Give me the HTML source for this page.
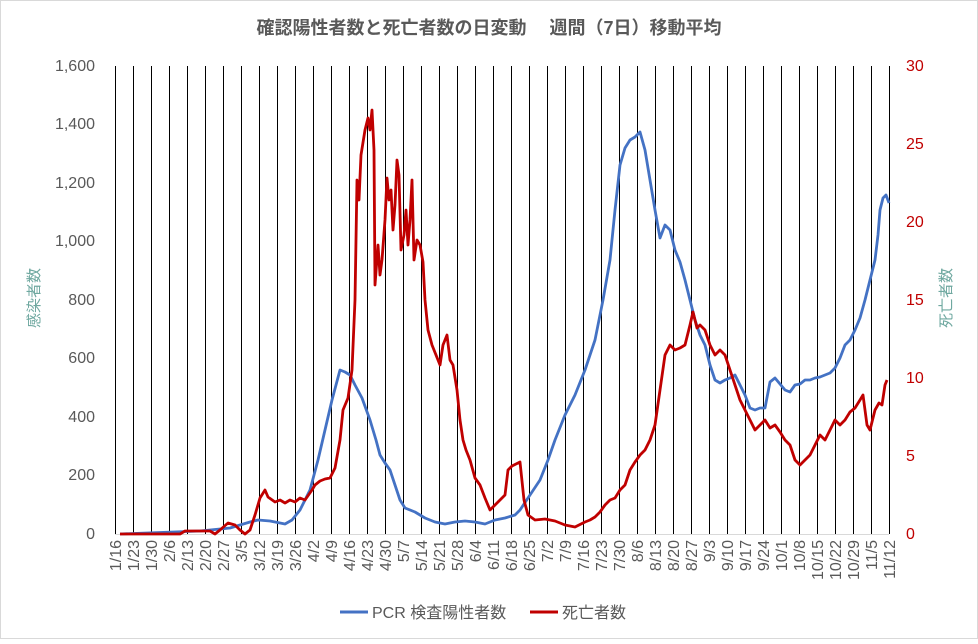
<!DOCTYPE html><html><head><meta charset="utf-8"><style>body{margin:0;background:#fff}</style></head><body>
<svg width="978" height="639" xmlns="http://www.w3.org/2000/svg" font-family="Liberation Sans, Noto Sans CJK JP, sans-serif">
<rect x="0.5" y="0.5" width="977" height="638" fill="#fff" stroke="#d9d9d9"/>
<text x="489" y="34" text-anchor="middle" font-size="18" font-weight="bold" fill="#595959">確認陽性者数と死亡者数の日変動　 週間（7日）移動平均</text>
<g stroke="#000" stroke-width="1" shape-rendering="crispEdges" id="g"></g>
<line x1="115" y1="534.5" x2="889" y2="534.5" stroke="#d9d9d9" shape-rendering="crispEdges"/>
<g font-size="16" fill="#595959" text-anchor="end">
<text x="95" y="539">0</text><text x="95" y="480">200</text><text x="95" y="422">400</text><text x="95" y="363">600</text><text x="95" y="305">800</text><text x="95" y="246">1,000</text><text x="95" y="188">1,200</text><text x="95" y="129">1,400</text><text x="95" y="71">1,600</text></g>
<g font-size="16" fill="#c00000" text-anchor="start">
<text x="906" y="539">0</text><text x="906" y="461">5</text><text x="906" y="383">10</text><text x="906" y="305">15</text><text x="906" y="227">20</text><text x="906" y="149">25</text><text x="906" y="71">30</text></g>
<text transform="translate(39,298) rotate(-90)" text-anchor="middle" font-size="15" fill="#6fa8a0">感染者数</text>
<text transform="translate(951,298) rotate(-90)" text-anchor="middle" font-size="15" fill="#6fa8a0">死亡者数</text>
<g id="xl" font-size="16" fill="#595959"></g>
<polyline fill="none" stroke="#4472c4" stroke-width="2.8" stroke-linejoin="round" points="120,534 200,531 230,528 250,522 258,520 270,521 285,524 292,520 300,510 310,490 318,460 325,430 332,400 340,370 345,372 350,375 355,385 362,398 370,420 376,440 380,455 385,463 390,470 395,485 400,500 405,508 415,512 425,518 435,522 445,524 455,522 465,521 475,522 485,524 495,520 505,518 515,515 520,510 530,495 540,480 548,460 555,440 565,415 575,395 585,370 595,340 603,300 610,260 615,210 620,165 625,148 630,140 635,137 640,132 645,150 650,180 655,210 660,238 665,225 670,230 675,250 680,262 685,280 690,300 695,320 700,335 705,345 710,365 715,380 720,383 725,380 730,378 735,375 740,385 745,395 750,408 755,410 760,408 765,408 770,382 775,378 780,384 785,390 790,392 795,385 800,384 805,380 810,380 815,378 820,377 825,375 830,373 835,368 840,358 845,345 850,340 855,330 860,318 865,300 870,280 875,260 878,235 880,210 883,198 886,195 889,203"/>
<polyline fill="none" stroke="#c00000" stroke-width="2.8" stroke-linejoin="round" points="120,534 180,534 185,531 210,531 215,534 220,530 228,523 235,525 240,530 245,534 250,530 255,515 260,498 265,490 268,497 275,502 280,500 285,503 290,500 295,502 300,498 305,500 312,490 315,485 320,481 325,479 330,478 335,468 340,440 343,410 348,398 352,370 355,300 357,180 359,200 361,155 365,130 368,118 370,130 372,110 374,150 375,285 378,245 380,275 382,260 385,220 387,178 389,200 391,190 393,230 395,205 397,160 399,175 401,250 404,235 406,210 408,245 410,220 412,180 414,260 417,240 420,245 423,262 425,300 428,330 432,345 436,355 440,365 443,345 447,335 450,360 453,365 457,390 460,420 463,440 466,450 470,460 475,478 480,485 485,498 490,510 495,505 500,500 505,495 508,470 512,466 516,464 520,462 524,500 528,515 535,520 545,519 555,521 565,525 575,527 585,522 590,520 595,517 600,512 605,505 610,500 615,498 620,490 625,485 630,470 635,462 640,455 645,450 650,440 655,425 660,390 665,355 670,345 675,350 680,348 685,345 690,325 693,312 697,328 700,325 705,330 710,345 715,355 720,350 725,355 730,370 735,385 740,400 745,410 750,420 755,430 760,425 765,420 770,428 775,425 780,432 785,440 790,445 795,460 800,465 805,460 810,455 815,445 820,435 825,440 830,430 835,420 840,425 845,420 850,412 855,408 860,400 863,395 867,425 870,430 875,410 879,403 882,405 885,385 887,380"/>
<line x1="340" y1="612" x2="368" y2="612" stroke="#4472c4" stroke-width="3"/>
<text x="372" y="618" font-size="16" fill="#595959">PCR 検査陽性者数</text>
<line x1="530" y1="612" x2="558" y2="612" stroke="#c00000" stroke-width="3"/>
<text x="562" y="618" font-size="16" fill="#595959">死亡者数</text>
</svg>
<script>
var L="1/16,1/23,1/30,2/6,2/13,2/20,2/27,3/5,3/12,3/19,3/26,4/2,4/9,4/16,4/23,4/30,5/7,5/14,5/21,5/28,6/4,6/11,6/18,6/25,7/2,7/9,7/16,7/23,7/30,8/6,8/13,8/20,8/27,9/3,9/10,9/17,9/24,10/1,10/8,10/15,10/22,10/29,11/5,11/12".split(",");
var ns="http://www.w3.org/2000/svg",g=document.getElementById("g"),xl=document.getElementById("xl");
L.forEach(function(s,i){var x=115+i*18;var l=document.createElementNS(ns,"line");l.setAttribute("x1",x+0.5);l.setAttribute("x2",x+0.5);l.setAttribute("y1",66);l.setAttribute("y2",534);g.appendChild(l);
var t=document.createElementNS(ns,"text");t.setAttribute("transform","translate("+(x+6)+",540) rotate(-90)");t.setAttribute("text-anchor","end");t.textContent=s;xl.appendChild(t);});
</script>
</body></html>
